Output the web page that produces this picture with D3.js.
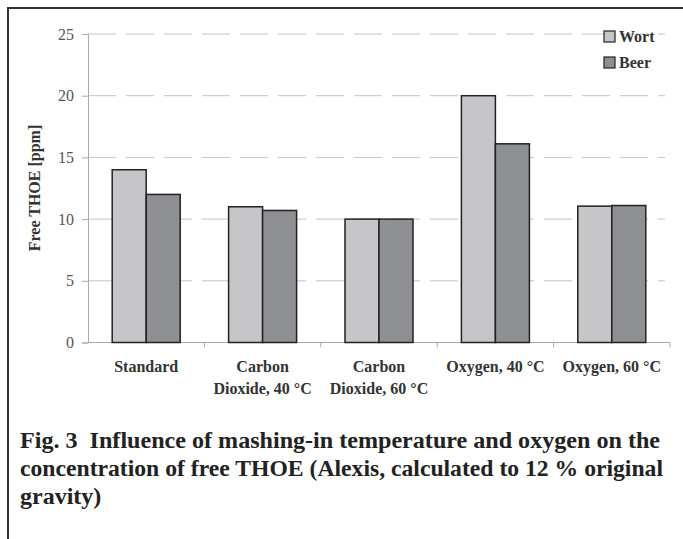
<!DOCTYPE html>
<html>
<head>
<meta charset="utf-8">
<script src="https://cdn.jsdelivr.net/npm/d3@7"></script>
<style>
  body { margin: 0; background: #fff; }
  svg { display: block; }
</style>
</head>
<body>
<svg id="chart" width="683" height="539"></svg>
<script>
// chart data
const categories = ['Standard', 'Carbon Dioxide, 40 °C', 'Carbon Dioxide, 60 °C', 'Oxygen, 40 °C', 'Oxygen, 60 °C']
const categoryLines = [['Standard'], ['Carbon', 'Dioxide, 40 °C'], ['Carbon', 'Dioxide, 60 °C'], ['Oxygen, 40 °C'], ['Oxygen, 60 °C']]
const seriesNames = ['Wort', 'Beer']
const wortValues = [14, 11, 10, 20, 11.05]
const beerValues = [12, 10.7, 10, 16.1, 11.1]
const yTicks = [0, 5, 10, 15, 20, 25]
const captionLines = [
  'Fig. 3  Influence of mashing-in temperature and oxygen on the',
  'concentration of free THOE (Alexis, calculated to 12 % original',
  'gravity)'
]

const serif = "'Liberation Serif', 'Times New Roman', serif"
const svg = d3.select('#chart')

// frame (left and top only)
svg.append('path')
  .attr('d', 'M8,539 V8 H683')
  .attr('fill', 'none')
  .attr('stroke', '#333')
  .attr('stroke-width', 2)

const margin = { top: 34, left: 88, right: 670, bottom: 342.5 }

const x0 = d3.scaleBand().domain(categories).range([margin.left, margin.right]).padding(0)
const x1 = d3.scaleBand().domain(seriesNames)
  .range([x0.bandwidth() / 2 - 34, x0.bandwidth() / 2 + 34])
const y = d3.scaleLinear().domain([0, 25]).range([margin.bottom, margin.top])
const color = d3.scaleOrdinal().domain(seriesNames).range(['#c6c6c8', '#8e8f93'])

// dashed gridlines
svg.append('g')
  .selectAll('line')
  .data(yTicks.filter(d => d > 0))
  .enter()
  .append('line')
  .attr('x1', margin.left)
  .attr('x2', margin.right - 5)
  .attr('y1', d => y(d))
  .attr('y2', d => y(d))
  .attr('stroke', '#c4c4c4')
  .attr('stroke-width', 1)
  .attr('stroke-dasharray', '28,10')

// y axis
const yAxis = svg.append('g')
  .attr('transform', `translate(${margin.left},0)`)
  .call(d3.axisLeft(y).tickValues(yTicks).tickSize(6).tickPadding(8))
yAxis.select('.domain').attr('stroke', '#aaa')
yAxis.selectAll('.tick line').attr('stroke', '#aaa')
yAxis.selectAll('.tick text')
  .style('font-family', serif)
  .style('font-size', '16px')
  .attr('fill', '#555')

// x axis, ticks between the groups
const xAxis = svg.append('g')
  .attr('transform', `translate(0,${margin.bottom})`)
xAxis.append('line')
  .attr('x1', margin.left).attr('x2', margin.right)
  .attr('stroke', '#aaa')
xAxis.selectAll('.sep')
  .data(categories)
  .enter()
  .append('line')
  .attr('class', 'sep')
  .attr('x1', d => x0(d) + x0.bandwidth())
  .attr('x2', d => x0(d) + x0.bandwidth())
  .attr('y1', 0).attr('y2', 5)
  .attr('stroke', '#aaa')

xAxis.selectAll('.lab')
  .data(categories)
  .enter()
  .append('text')
  .attr('class', 'lab')
  .attr('text-anchor', 'middle')
  .style('font-family', serif)
  .style('font-weight', 'bold')
  .style('font-size', '16px')
  .attr('fill', '#333')
  .each(function (d, i) {
    const t = d3.select(this)
    categoryLines[i].forEach((line, j) => {
      t.append('tspan')
        .attr('x', x0(d) + x0.bandwidth() / 2)
        .attr('y', 29 + j * 22)
        .text(line)
    })
  })

// bars
const groups = svg.append('g')
  .selectAll('g')
  .data(categories)
  .enter()
  .append('g')
  .attr('transform', d => `translate(${x0(d)},0)`)

groups.selectAll('rect')
  .data((d, i) => [
    { key: 'Wort', value: wortValues[i] },
    { key: 'Beer', value: beerValues[i] }
  ])
  .enter()
  .append('rect')
  .attr('x', d => x1(d.key))
  .attr('y', d => y(d.value))
  .attr('width', x1.bandwidth())
  .attr('height', d => y(0) - y(d.value))
  .attr('fill', d => color(d.key))
  .attr('stroke', '#222')
  .attr('stroke-width', 1.5)

// y axis title
svg.append('text')
  .attr('transform', 'translate(40,188) rotate(-90)')
  .attr('text-anchor', 'middle')
  .style('font-family', serif)
  .style('font-weight', 'bold')
  .style('font-size', '16px')
  .attr('fill', '#333')
  .text('Free THOE [ppm]')

// legend
const legend = svg.append('g')
  .selectAll('g')
  .data(seriesNames)
  .enter()
  .append('g')
  .attr('transform', (d, i) => `translate(604,${31 + i * 26})`)
legend.append('rect')
  .attr('width', 11).attr('height', 11)
  .attr('fill', d => color(d))
  .attr('stroke', '#222')
  .attr('stroke-width', 1.2)
legend.append('text')
  .attr('x', 15).attr('y', 11)
  .style('font-family', serif)
  .style('font-weight', 'bold')
  .style('font-size', '16px')
  .attr('fill', '#333')
  .text(d => d)

// caption
const caption = svg.append('g')
caption.selectAll('text')
  .data(captionLines)
  .enter()
  .append('text')
  .attr('x', 20)
  .attr('y', (d, i) => 448 + i * 28)
  .style('font-family', serif)
  .style('font-weight', 'bold')
  .style('font-size', '24px')
  .style('white-space', 'pre')
  .attr('fill', '#222')
  .attr('textLength', (d, i) => i < 2 ? [640, 643][i] : null)
  .attr('lengthAdjust', 'spacingAndGlyphs')
  .text(d => d)
</script>
</body>
</html>
